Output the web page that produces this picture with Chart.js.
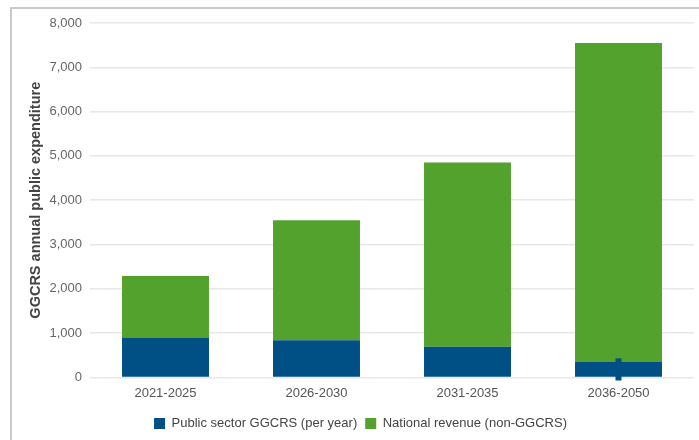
<!DOCTYPE html>
<html>
<head>
<meta charset="utf-8">
<style>
  html, body { margin: 0; padding: 0; background: #fff; }
  #wrap { position: relative; width: 699px; height: 440px; }
  #frame { position: absolute; left: 10px; top: 7px; right: 0; bottom: 0;
           border-left: 2px solid #cacaca; border-top: 2px solid #cacaca; pointer-events: none; }
  canvas { position: absolute; left: 0; top: 0; }
</style>
<script src="https://cdn.jsdelivr.net/npm/chart.js@4/dist/chart.umd.min.js"></script>
</head>
<body>
<div id="wrap">
  <canvas id="chart" width="699" height="440"></canvas>
  <div id="frame"></div>
</div>
<script>
const periods = ["2021-2025", "2026-2030", "2031-2035", "2036-2050"];
const publicSector = [900, 840, 690, 350];
const nationalRevenue = [1390, 2710, 4160, 7200];
const yTicks = [0, 1000, 2000, 3000, 4000, 5000, 6000, 7000, 8000];
// small marker seen on the last bar (category index, from, to)
const marker = { index: 3, from: 430, to: -70 };

const FONT = "'Liberation Sans', Arial, sans-serif";

const markerPlugin = {
  id: "marker",
  afterDatasetsDraw(chart) {
    const x = chart.scales.x.getPixelForValue(marker.index);
    const y1 = chart.scales.y.getPixelForValue(marker.from);
    const y2 = chart.scales.y.getPixelForValue(marker.to);
    const c = chart.ctx;
    c.save();
    c.fillStyle = "#004f85";
    c.fillRect(x - 3, y1, 6, y2 - y1);
    c.restore();
  }
};

const ctx = document.getElementById("chart").getContext("2d");
new Chart(ctx, {
  type: "bar",
  data: {
    labels: periods,
    datasets: [
      { label: "Public sector GGCRS (per year)", data: publicSector, backgroundColor: "#004f85",
        categoryPercentage: 1, barPercentage: 0.576 },
      { label: "National revenue (non-GGCRS)", data: nationalRevenue, backgroundColor: "#53a22e",
        categoryPercentage: 1, barPercentage: 0.576 }
    ]
  },
  options: {
    responsive: false,
    animation: false,
    layout: { padding: { top: 23, right: 5, left: 27, bottom: 0 } },
    plugins: {
      legend: {
        position: "bottom",
        labels: { font: { family: FONT, size: 13 }, color: "#444", boxWidth: 11, boxHeight: 11, padding: 8 }
      },
      tooltip: { enabled: false }
    },
    scales: {
      x: {
        stacked: true,
        grid: { display: false, drawTicks: false, tickLength: 0 },
        border: { display: false },
        ticks: { font: { family: FONT, size: 13 }, color: "#555", padding: 8 }
      },
      y: {
        stacked: true,
        min: 0, max: 8000,
        afterBuildTicks: s => { s.ticks = yTicks.map(v => ({ value: v })); },
        afterFit: s => { s.width = 63; },
        grid: { color: "#e8e8e8", drawTicks: false, lineWidth: 1.5 },
        border: { display: false },
        ticks: {
          font: { family: FONT, size: 13 }, color: "#666", padding: 8,
          callback: v => v.toLocaleString("en-US")
        },
        title: {
          display: true, text: "GGCRS annual public expenditure",
          font: { family: FONT, size: 14.5, weight: "bold" }, color: "#444", padding: 0
        }
      }
    }
  },
  plugins: [markerPlugin]
});
</script>
</body>
</html>
